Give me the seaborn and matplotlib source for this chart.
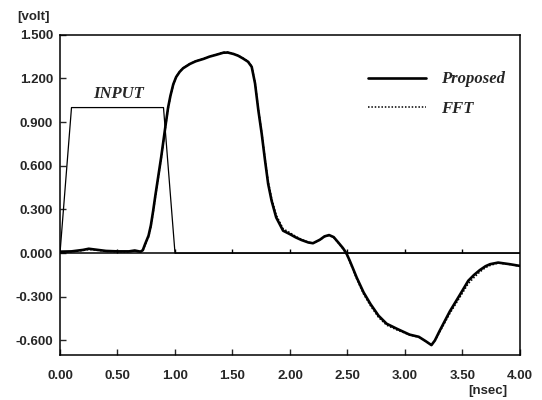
import numpy as np
import pandas as pd
import matplotlib
matplotlib.use("Agg")
import matplotlib.pyplot as plt
import seaborn as sns

# Values (time in nsec, voltage in volt)
t_wave = [0.00, 0.10, 0.20, 0.25, 0.30, 0.40, 0.50, 0.60, 0.65, 0.70,
          0.72, 0.74, 0.77, 0.79, 0.81, 0.83, 0.855, 0.88, 0.90, 0.92,
          0.94, 0.96, 0.985, 1.01, 1.04, 1.07, 1.13, 1.18, 1.25, 1.30,
          1.36, 1.42, 1.46, 1.51, 1.55, 1.59, 1.635, 1.667, 1.696, 1.725,
          1.754, 1.783, 1.81, 1.84, 1.88, 1.94, 2.00, 2.05, 2.10, 2.16,
          2.20, 2.26, 2.30, 2.34, 2.38, 2.42, 2.46, 2.49, 2.52, 2.55,
          2.58, 2.64, 2.70, 2.77, 2.84, 2.93, 3.04, 3.12, 3.18, 3.23,
          3.26, 3.30, 3.39, 3.48, 3.55, 3.60, 3.65, 3.70, 3.74, 3.81,
          3.91, 4.00]
v_prop = [0.010, 0.012, 0.022, 0.030, 0.025, 0.015, 0.012, 0.012, 0.018, 0.010,
          0.020, 0.062, 0.120, 0.190, 0.290, 0.400, 0.530, 0.660, 0.775, 0.890,
          1.000, 1.080, 1.160, 1.210, 1.245, 1.270, 1.300, 1.318, 1.335, 1.350,
          1.363, 1.377, 1.378, 1.368, 1.356, 1.338, 1.315, 1.280, 1.166, 0.980,
          0.820, 0.636, 0.476, 0.360, 0.245, 0.154, 0.130, 0.108, 0.090, 0.073,
          0.068, 0.092, 0.115, 0.124, 0.110, 0.073, 0.035, 0.000, -0.053, -0.110,
          -0.168, -0.270, -0.350, -0.430, -0.485, -0.520, -0.560, -0.575, -0.605, -0.632,
          -0.600, -0.536, -0.400, -0.283, -0.190, -0.150, -0.117, -0.090, -0.076, -0.065,
          -0.076, -0.088]
v_fft = [0.008, 0.010, 0.018, 0.025, 0.022, 0.012, 0.010, 0.010, 0.015, 0.008,
         0.016, 0.055, 0.110, 0.180, 0.278, 0.388, 0.518, 0.650, 0.765, 0.880,
         0.990, 1.075, 1.155, 1.210, 1.247, 1.272, 1.302, 1.320, 1.337, 1.352,
         1.366, 1.380, 1.381, 1.370, 1.358, 1.340, 1.318, 1.285, 1.175, 0.990,
         0.830, 0.650, 0.495, 0.378, 0.262, 0.168, 0.140, 0.115, 0.094, 0.075,
         0.069, 0.090, 0.113, 0.122, 0.107, 0.070, 0.030, -0.005, -0.060, -0.118,
         -0.178, -0.282, -0.362, -0.442, -0.495, -0.528, -0.562, -0.578, -0.606, -0.630,
         -0.602, -0.545, -0.415, -0.300, -0.210, -0.168, -0.130, -0.100, -0.085, -0.068,
         -0.078, -0.090]

t_input = [0.0, 0.1, 0.9, 1.0, 4.0]
v_input = [0.0, 1.0, 1.0, 0.0, 0.0]

xticks = [0.0, 0.5, 1.0, 1.5, 2.0, 2.5, 3.0, 3.5, 4.0]
yticks = [-0.6, -0.3, 0.0, 0.3, 0.6, 0.9, 1.2, 1.5]

sns.set_style("ticks")
plt.rcParams["font.family"] = ["Liberation Sans", "DejaVu Sans"]

fig = plt.figure(figsize=(5.42, 4.0), dpi=100)
ax = fig.add_axes([0.1107, 0.1125, 0.8487, 0.8005])

df_prop = pd.DataFrame({"t": t_wave, "v": v_prop})
df_fft = pd.DataFrame({"t": t_wave, "v": v_fft})
df_in = pd.DataFrame({"t": t_input, "v": v_input})

sns.lineplot(data=df_in, x="t", y="v", ax=ax, color="black", lw=0.9,
             sort=False, estimator=None)
sns.lineplot(data=df_fft, x="t", y="v", ax=ax, color="black", lw=1.1,
             ls=(0, (1, 1.2)), sort=False, estimator=None, label="FFT")
sns.lineplot(data=df_prop, x="t", y="v", ax=ax, color="black", lw=1.9,
             sort=False, estimator=None, label="Proposed")

# zero line with small upward ticks
ax.axhline(0, color="black", lw=1.1)
ax.vlines(xticks[1:-1], 0, 0.025, color="black", lw=1.0)

ax.set_xlim(0, 4)
ax.set_ylim(-0.7, 1.5)
ax.set_xticks(xticks)
ax.set_yticks(yticks)
ax.set_xticklabels([f"{x:.2f}" for x in xticks])
ax.set_yticklabels([f"{y:.3f}" for y in yticks])
ax.tick_params(direction="in", length=4, width=1, labelsize=9.5)
ax.tick_params(axis="x", pad=11)
ax.tick_params(axis="y", pad=5)
for lab in ax.get_xticklabels() + ax.get_yticklabels():
    lab.set_fontweight("bold")
for sp in ax.spines.values():
    sp.set_color("black")
    sp.set_linewidth(1.1)
ax.set_xlabel("")
ax.set_ylabel("")

serif = dict(family=["Liberation Serif", "DejaVu Serif"], weight="bold",
             style="italic", size=12)

handles, labels = ax.get_legend_handles_labels()
order = [labels.index("Proposed"), labels.index("FFT")]
leg = ax.legend([handles[i] for i in order], [labels[i] for i in order],
                loc="upper left", bbox_to_anchor=(0.637, 0.9325), frameon=False,
                handlelength=3.5, handletextpad=0.85, labelspacing=0.8,
                prop=serif)

ax.text(0.51, 1.09, "INPUT", ha="center", va="center", **serif)
fig.text(0.032, 0.9575, "[volt]", fontsize=9.5, fontweight="bold", va="center")
fig.text(0.90, 0.0225, "[nsec]", fontsize=9.5, fontweight="bold", ha="center",
         va="center")

fig.savefig("out.png", dpi=100)
